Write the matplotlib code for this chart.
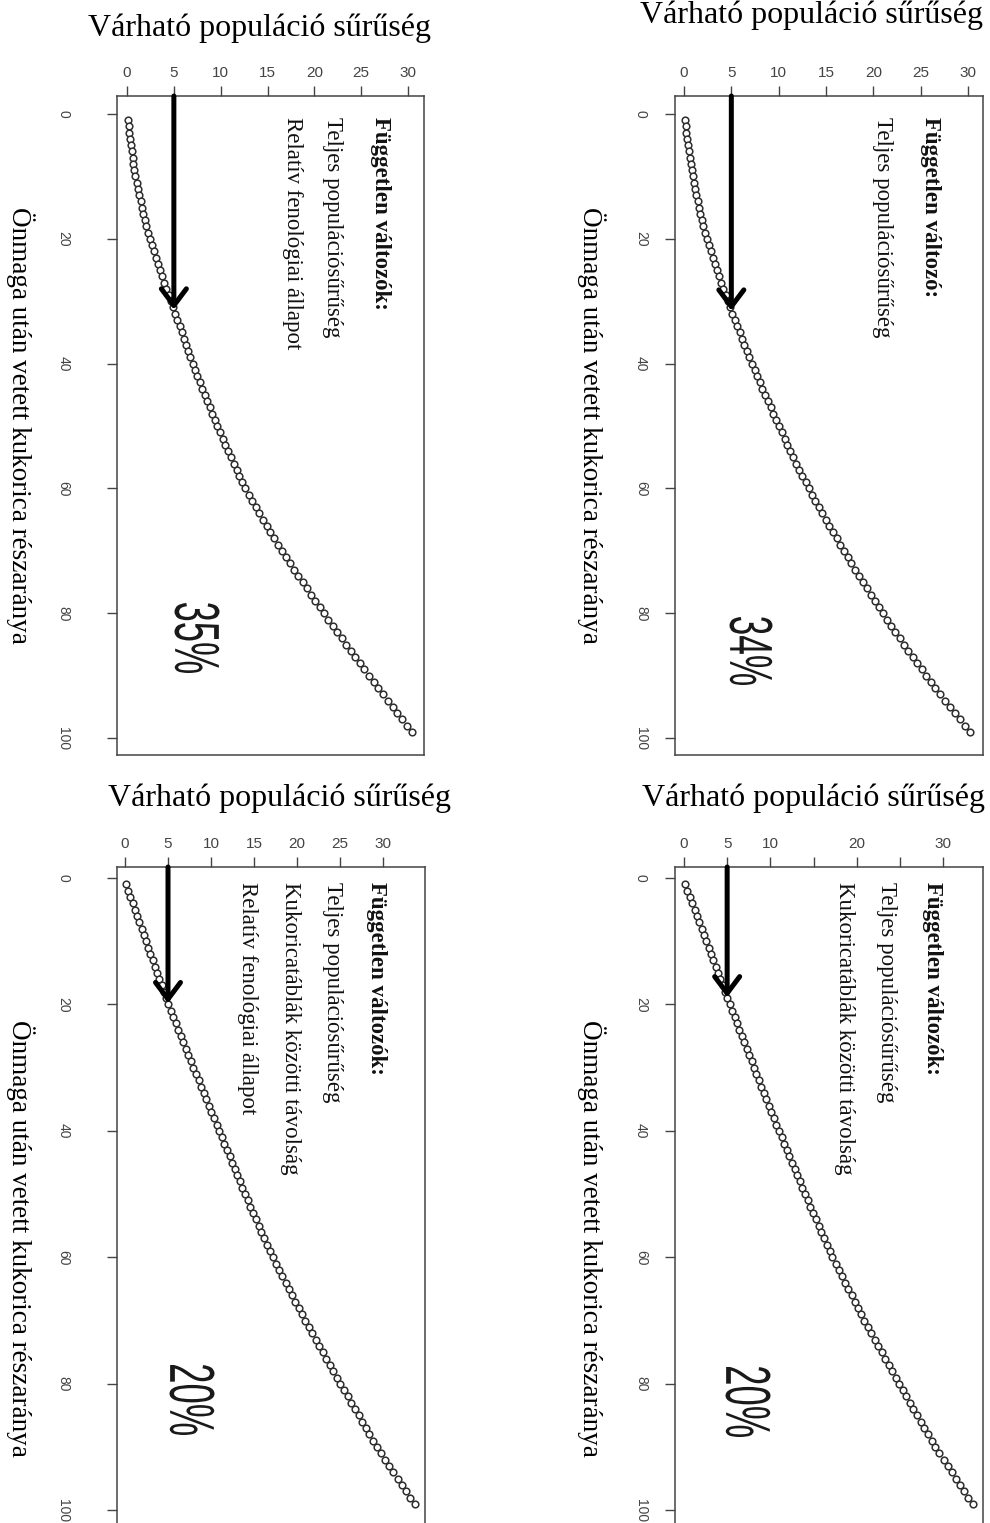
import numpy as np
import matplotlib
matplotlib.use('Agg')
import matplotlib.pyplot as plt
from matplotlib.textpath import TextPath
from matplotlib.patches import PathPatch
from matplotlib.transforms import Affine2D
from matplotlib.font_manager import FontProperties

W, H = 990, 1523

# share of maize sown after itself (%) and predicted population density
share = np.arange(1, 100)

dens_a = [0.10, 0.18, 0.26, 0.34, 0.42, 0.50, 0.59, 0.68, 0.78, 0.88,
          1.02, 1.16, 1.30, 1.45, 1.60, 1.75, 1.91, 2.07, 2.23, 2.40,
          2.62, 2.84, 3.06, 3.29, 3.52, 3.75, 3.98, 4.21, 4.45, 4.69,
          4.92, 5.15, 5.38, 5.61, 5.84, 6.07, 6.30, 6.53, 6.76, 7.00,
          7.26, 7.52, 7.78, 8.04, 8.30, 8.56, 8.82, 9.08, 9.34, 9.60,
          9.90, 10.20, 10.50, 10.80, 11.10, 11.40, 11.70, 12.00, 12.30, 12.60,
          12.98, 13.36, 13.74, 14.13, 14.52, 14.92, 15.31, 15.71, 16.10, 16.50,
          16.95, 17.40, 17.85, 18.30, 18.75, 19.20, 19.65, 20.10, 20.55, 21.00,
          21.48, 21.96, 22.44, 22.92, 23.40, 23.88, 24.36, 24.84, 25.32, 25.80,
          26.31, 26.82, 27.33, 27.84, 28.35, 28.86, 29.37, 29.88, 30.40]

dens_b = [0.10, 0.18, 0.26, 0.34, 0.43, 0.52, 0.61, 0.70, 0.80, 0.90,
          1.03, 1.16, 1.30, 1.44, 1.59, 1.74, 1.90, 2.06, 2.22, 2.38,
          2.59, 2.80, 3.02, 3.24, 3.46, 3.69, 3.92, 4.15, 4.39, 4.63,
          4.87, 5.12, 5.37, 5.62, 5.87, 6.13, 6.39, 6.65, 6.91, 7.18,
          7.45, 7.72, 8.00, 8.28, 8.56, 8.85, 9.14, 9.43, 9.72, 10.02,
          10.32, 10.62, 10.93, 11.24, 11.55, 11.87, 12.19, 12.51, 12.84, 13.17,
          13.52, 13.88, 14.24, 14.61, 14.98, 15.35, 15.73, 16.11, 16.49, 16.88,
          17.28, 17.68, 18.08, 18.49, 18.90, 19.31, 19.73, 20.15, 20.57, 21.00,
          21.44, 21.88, 22.33, 22.78, 23.23, 23.69, 24.15, 24.62, 25.09, 25.56,
          26.06, 26.56, 27.07, 27.58, 28.10, 28.62, 29.14, 29.67, 30.20]

dens_c = [0.10, 0.36, 0.62, 0.88, 1.14, 1.40, 1.66, 1.92, 2.18, 2.44,
          2.70, 2.96, 3.22, 3.48, 3.74, 4.00, 4.26, 4.52, 4.78, 5.05,
          5.34, 5.63, 5.92, 6.21, 6.50, 6.79, 7.08, 7.37, 7.66, 7.95,
          8.25, 8.55, 8.85, 9.15, 9.45, 9.75, 10.05, 10.35, 10.65, 10.95,
          11.25, 11.55, 11.85, 12.15, 12.45, 12.75, 13.05, 13.35, 13.65, 13.95,
          14.27, 14.59, 14.91, 15.23, 15.55, 15.87, 16.19, 16.51, 16.83, 17.15,
          17.53, 17.91, 18.29, 18.67, 19.05, 19.43, 19.81, 20.19, 20.57, 20.95,
          21.36, 21.77, 22.18, 22.59, 23.00, 23.41, 23.82, 24.23, 24.64, 25.05,
          25.47, 25.89, 26.31, 26.73, 27.15, 27.57, 27.99, 28.41, 28.83, 29.25,
          29.74, 30.23, 30.72, 31.21, 31.70, 32.19, 32.68, 33.17, 33.66]

dens_d = [0.12, 0.40, 0.68, 0.96, 1.24, 1.52, 1.79, 2.06, 2.33, 2.60,
          2.87, 3.14, 3.41, 3.68, 3.95, 4.22, 4.49, 4.76, 5.03, 5.30,
          5.58, 5.86, 6.14, 6.42, 6.70, 6.98, 7.26, 7.54, 7.82, 8.10,
          8.39, 8.68, 8.97, 9.26, 9.55, 9.84, 10.13, 10.42, 10.71, 11.00,
          11.30, 11.60, 11.90, 12.20, 12.50, 12.80, 13.10, 13.40, 13.70, 14.00,
          14.32, 14.64, 14.96, 15.28, 15.60, 15.92, 16.24, 16.56, 16.88, 17.20,
          17.57, 17.94, 18.31, 18.68, 19.05, 19.42, 19.79, 20.16, 20.53, 20.90,
          21.30, 21.70, 22.10, 22.50, 22.90, 23.30, 23.70, 24.10, 24.50, 24.90,
          25.32, 25.74, 26.16, 26.58, 27.00, 27.42, 27.84, 28.26, 28.68, 29.10,
          29.58, 30.06, 30.54, 31.02, 31.50, 31.98, 32.46, 32.94, 33.42]

pct_labels = ['35%', '34%', '20%', '20%']
headers = ['Független változók:', 'Független változó:',
           'Független változók:', 'Független változók:']
predictors = [
    ['Teljes populációsűrűség', 'Relatív fenológiai állapot'],
    ['Teljes populációsűrűség'],
    ['Teljes populációsűrűség', 'Kukoricatáblák közötti távolság',
     'Relatív fenológiai állapot'],
    ['Teljes populációsűrűség', 'Kukoricatáblák közötti távolság'],
]
dens_ticks = [0, 5, 10, 15, 20, 25, 30]
dens_ticklabels_d = ['0', '5', '10', '', '20', '', '30']
share_ticks = [0, 20, 40, 60, 80, 100]
threshold = 5

title = 'Várható populáció sűrűség'
xlabel = 'Önmaga után vetett kukorica részaránya'

SERIF = 'Liberation Serif'
SANS = 'Liberation Sans'

# pixel layout of the four panels
panels = [
    dict(dens=dens_a, box=(117, 96, 424, 755), xlim=(-1.07, 31.7), ylim=(102.7, -2.88),
         title_xy=(260, 28), label_x=20, tick_pad=26, text_x=[380, 333, 292], text_top=117,
         pct=(197, 638, 45, 70)),
    dict(dens=dens_b, box=(675, 96, 983, 755), xlim=(-0.95, 31.58), ylim=(102.7, -2.88),
         title_xy=(812, 15), label_x=591, tick_pad=12, text_x=[930, 883], text_top=117,
         pct=(751, 651, 43, 68)),
    dict(dens=dens_c, box=(117, 867, 425, 1540), xlim=(-0.93, 34.88), ylim=(104.7, -1.74),
         title_xy=(280, 798), label_x=20, tick_pad=26, text_x=[377, 332, 290, 247], text_top=882,
         pct=(192, 1400, 45, 70)),
    dict(dens=dens_d, box=(675, 867, 983, 1540), xlim=(-1.04, 34.63), ylim=(104.7, -1.74),
         title_xy=(814, 798), label_x=591, tick_pad=12, text_x=[932, 887, 845], text_top=882,
         pct=(748, 1402, 45, 70)),
]

fig = plt.figure(figsize=(W / 100, H / 100), dpi=100)
fig.patch.set_facecolor('white')


def squeezed_text(text, cx, cy, across, along):
    # narrow, tall lettering reading top to bottom, centred on (cx, cy) in pixels
    tp = TextPath((0, 0), text, size=100, prop=FontProperties(family=SANS))
    bb = tp.get_extents()
    tr = (Affine2D()
          .translate(-(bb.x0 + bb.width / 2), -(bb.y0 + bb.height / 2))
          .scale(along / bb.width, across / bb.height)
          .rotate_deg(-90)
          .translate(cx, H - cy))
    fig.add_artist(PathPatch(tp, transform=tr, facecolor='#1a1a1a',
                             edgecolor='none'))


for i, p in enumerate(panels):
    l, t, r, b = p['box']
    ax = fig.add_axes([l / W, 1 - b / H, (r - l) / W, (b - t) / H])
    ax.set_xlim(*p['xlim'])
    ax.set_ylim(*p['ylim'])

    ax.plot(p['dens'], share, linestyle='none', marker='o', markersize=4.8,
            markerfacecolor='white', markeredgecolor='#2e2e2e',
            markeredgewidth=1.1, clip_on=False)

    # arrow down from the top at density 5 to where the curve reaches it
    y_end = np.interp(threshold, p['dens'], share)
    ax.annotate('', xy=(threshold, y_end), xytext=(threshold, p['ylim'][1]),
                arrowprops=dict(arrowstyle='->,head_length=0.6,head_width=0.45',
                                lw=3.6, color='black', shrinkA=0, shrinkB=0,
                                mutation_scale=20),
                annotation_clip=False)

    for s in ax.spines.values():
        s.set_color('#444444')
        s.set_linewidth(1.1)

    ax.xaxis.tick_top()
    ax.set_xticks(dens_ticks)
    if i == 3:
        ax.set_xticklabels(dens_ticklabels_d)
    ax.set_yticks(share_ticks)
    ax.tick_params(axis='x', length=7.5, width=1, color='#444444', pad=4,
                   labelsize=11, labelcolor='#444444')
    ax.tick_params(axis='y', length=7.5, width=1, color='#444444',
                   pad=p['tick_pad'], labelsize=10, labelcolor='#444444')
    for lbl in ax.get_xticklabels():
        lbl.set_family(SANS)
    for lbl in ax.get_yticklabels():
        lbl.set_family(SANS)
        lbl.set_rotation(-90)
        lbl.set_va('center')

    # predictor list inside the panel
    lines = [headers[i]] + predictors[i]
    for j, (txt, x) in enumerate(zip(lines, p['text_x'])):
        fig.text(x / W, 1 - p['text_top'] / H, txt, rotation=-90,
                 ha='center', va='top', family=SERIF, fontsize=16.5,
                 fontweight='bold' if j == 0 else 'normal', color='#111111')

    cx, cy, across, along = p['pct']
    squeezed_text(pct_labels[i], cx, cy, across, along)

    tx, ty = p['title_xy']
    fig.text(tx / W, 1 - ty / H, title, ha='center', va='center',
             family=SERIF, fontsize=23, color='black')

    mid = (t + min(b, H)) / 2 if i < 2 else 1238
    fig.text(p['label_x'] / W, 1 - mid / H, xlabel, rotation=-90,
             ha='center', va='center', family=SERIF, fontsize=19.5,
             color='black')

fig.savefig('out.png', dpi=100, facecolor='white')
